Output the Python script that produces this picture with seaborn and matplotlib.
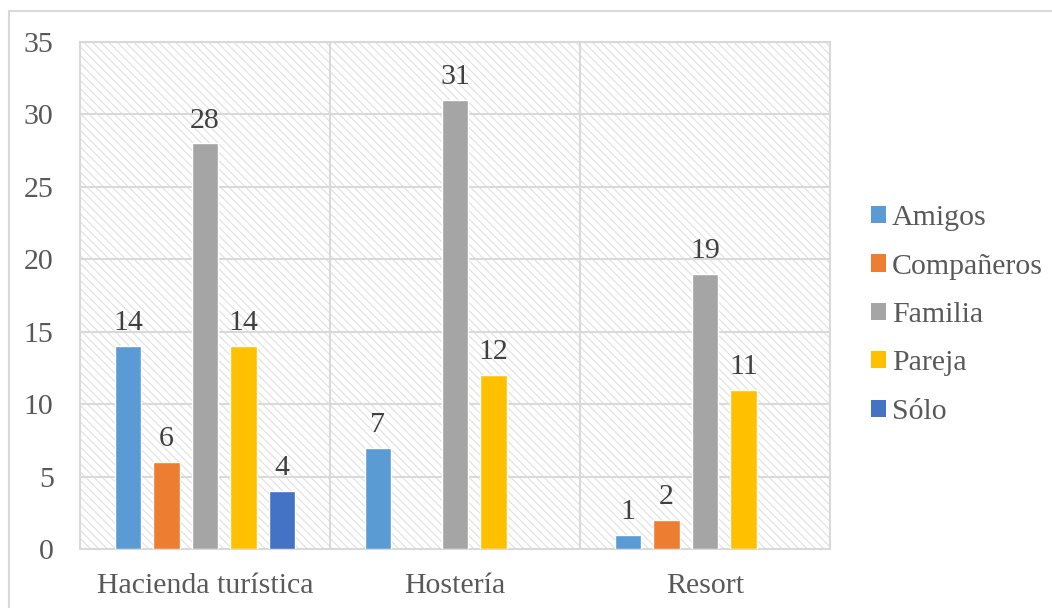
import matplotlib
matplotlib.use("Agg")
import matplotlib.pyplot as plt
from matplotlib.patches import Rectangle
from matplotlib.lines import Line2D
import numpy as np
import pandas as pd
import seaborn as sns

# Data: travel companions by type of lodging
categories = ["Hacienda turística", "Hostería", "Resort"]
series = ["Amigos", "Compañeros", "Familia", "Pareja", "Sólo"]
amigos = [14, 7, 1]
companeros = [6, np.nan, 2]
familia = [28, 31, 19]
pareja = [14, 12, 11]
solo = [4, np.nan, np.nan]
colors = ["#5B9BD5", "#ED7D31", "#A5A5A5", "#FFC000", "#4472C4"]
y_ticks = [0, 5, 10, 15, 20, 25, 30, 35]

values = [amigos, companeros, familia, pareja, solo]
rows = []
for name, vals in zip(series, values):
    for cat, v in zip(categories, vals):
        rows.append({"Alojamiento": cat, "Compañía": name, "Valor": v})
df = pd.DataFrame(rows)

sns.set_theme(style="white")
plt.rcParams["font.family"] = ["Liberation Serif", "DejaVu Serif"]
plt.rcParams["hatch.color"] = "#e0e0e0"
plt.rcParams["hatch.linewidth"] = 0.8

FS = 21.5
grid_c = "#d9d9d9"
text_c = "#595959"
label_c = "#404040"

fig = plt.figure(figsize=(10.52, 6.08), dpi=100)
ax = fig.add_axes([80 / 1052, 59 / 608, 750 / 1052, 507 / 608])

# hatched plot-area background
ax.add_patch(Rectangle((0, 0), 1, 1, transform=ax.transAxes, facecolor="white",
                       edgecolor="#e0e0e0", hatch="\\\\\\\\", linewidth=0, zorder=0))

sns.barplot(data=df, x="Alojamiento", y="Valor", hue="Compañía",
            order=categories, hue_order=series, palette=colors,
            width=0.77, gap=0.32, saturation=1, errorbar=None,
            legend=False, ax=ax, zorder=3)

for cont in ax.containers:
    ax.bar_label(cont, fmt="%g", padding=7, fontsize=FS, color=label_c)

ax.set_ylim(0, 35)
ax.set_xlim(-0.5, 2.5)
ax.set_yticks(y_ticks)
ax.set_xlabel("")
ax.set_ylabel("")
ax.tick_params(axis="both", length=0, labelsize=FS, labelcolor=text_c)
ax.tick_params(axis="y", pad=19)
ax.tick_params(axis="x", pad=17)

# gridlines: horizontal at ticks, vertical between categories
for y in y_ticks[1:]:
    ax.axhline(y, color=grid_c, lw=1.5, zorder=1)
for x in [0.5, 1.5]:
    ax.axvline(x, color=grid_c, lw=1.5, zorder=1)
for s in ax.spines.values():
    s.set_visible(True)
    s.set_color(grid_c)
    s.set_linewidth(1.5)

handles = [Rectangle((0, 0), 1, 1, facecolor=c, edgecolor="none") for c in colors]
fig.legend(handles, series, loc="center left",
           bbox_to_anchor=(859 / 1052, 1 - 315 / 608), frameon=False,
           fontsize=FS, labelcolor=text_c, handlelength=0.5, handleheight=0.5,
           handletextpad=0.2, labelspacing=0.75, borderaxespad=0)

# outer chart border
fig.add_artist(Line2D([9 / 1052, 1], [1 - 11 / 608, 1 - 11 / 608],
                      transform=fig.transFigure, color=grid_c, lw=1.5))
fig.add_artist(Line2D([9 / 1052, 9 / 1052], [0, 1 - 11 / 608],
                      transform=fig.transFigure, color=grid_c, lw=1.5))

fig.savefig("out.png", dpi=100)
